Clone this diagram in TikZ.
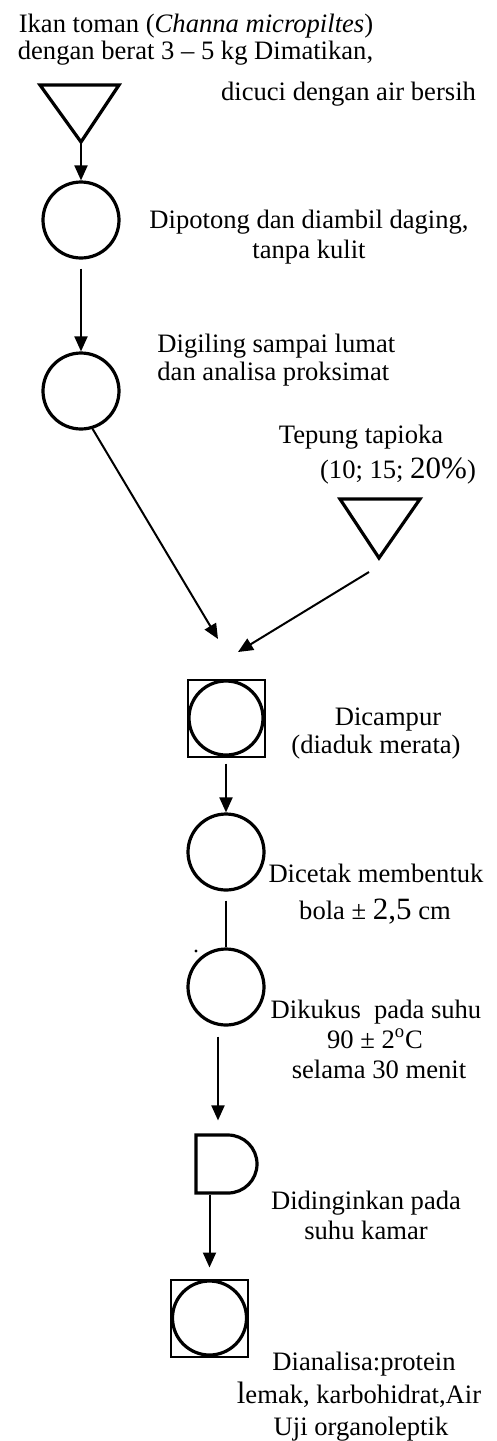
\documentclass[tikz,border=0pt]{standalone}
\usepackage{fontspec}
\setmainfont{Liberation Serif}
\usetikzlibrary{arrows.meta,shapes.misc}
\newcommand{\bigpart}[1]{{\fontsize{15.5}{17}\selectfont #1}}
\begin{document}
\begin{tikzpicture}[x=0.5pt,y=-0.5pt,
  every node/.style={font=\fontsize{13.3}{15}\selectfont},
  proc/.style={circle, draw, line width=1.6pt, minimum size=38pt, inner sep=0pt},
  inproc/.style={circle, draw, line width=1.6pt, minimum size=37pt, inner sep=0pt},
  boxsq/.style={rectangle, draw, line width=1pt, minimum size=38.5pt, inner sep=0pt},
  delay/.style={rounded rectangle, rounded rectangle left arc=none, draw, line width=1.6pt,
    minimum width=30.5pt, minimum height=29pt, inner sep=0pt},
  tri/.style={line width=1.6pt, line join=miter},
  lbl/.style={inner sep=0pt, anchor=base},
  lblw/.style={inner sep=0pt, anchor=base west},
  arr/.style={line width=1pt, -{Triangle[length=7.5pt,width=6.5pt]}},
  plain/.style={line width=1pt}]
\useasboundingbox (0,0) rectangle (497,1441);

% storage triangles
\draw[tri] (40,85) -- (119,85) -- (81,142) -- cycle;
\coordinate (t1) at (81,142);
\draw[tri] (340,499) -- (420,499) -- (379,558) -- cycle;

% process symbols
\node[proc] (c1) at (81,220) {};
\node[proc] (c2) at (81,391) {};
\node[boxsq] (mix) at (226,718) {};
\node[inproc] (mixc) at (226,718) {};
\node[proc] (c4) at (226,852) {};
\node[proc] (c5) at (226,987) {};
\node[delay] (cool) at (226.5,1164) {};
\node[boxsq] (an) at (209.5,1318) {};
\node[inproc] (anc) at (209.5,1318) {};
\fill (196,951) circle[radius=0.8pt];

% connectors
\coordinate (e1) at (218,639);
\coordinate (s2) at (369,572);
\coordinate (e2) at (238,652);
\draw[arr] (t1) -- (c1);
\draw[arr, shorten <=4.5pt] (c1) -- (c2);
\draw[arr] (c2.-73) -- (e1);
\draw[arr] (s2) -- (e2);
\draw[arr, shorten <=3pt] (mix) -- (c4);
\draw[plain, shorten <=4.5pt] (c4) -- (c5);
\draw[arr] ([xshift=-4pt,yshift=-5pt]c5.south) -- ([xshift=-4.25pt,yshift=6.5pt]cool.north);
\draw[arr] (cool.south -| an.north) -- ([yshift=5.5pt]an.north);

% labels
\node[lbl] (ti1) at (196,32) {Ikan toman (\textit{Channa micropiltes})};
\node[lbl] (ti2) at (195.5,59) {dengan berat 3 – 5 kg Dimatikan,};
\node[lbl] (ti3) at (348.5,100) {dicuci dengan air bersih};
\node[lbl] (p1) at (309,228) {Dipotong dan diambil daging,};
\node[lbl] (p2) at (309,258) {tanpa kulit};
\node[lblw] (g1) at (157,352) {Digiling sampai lumat};
\node[lblw] (g2) at (157,380) {dan analisa proksimat};
\node[lbl] (tp1) at (361,443) {Tepung tapioka};
\node[lbl] (tp2) at (398,478) {(10; 15; \bigpart{20\%})};
\node[lbl] (m1) at (388,725) {Dicampur};
\node[lbl] (m2) at (376,753) {(diaduk merata)};
\node[lbl] (d1) at (376,882) {Dicetak membentuk};
\node[lbl] (d2) at (375,919) {bola ± \bigpart{2,5} cm};
\node[lbl] (k1) at (376,1018) {Dikukus\ \ pada suhu};
\node[lbl] (k2) at (375,1048) {90 ± 2\textsuperscript{o}C};
\node[lbl] (k3) at (379,1078) {selama 30 menit};
\node[lbl] (n1) at (366,1209) {Didinginkan pada};
\node[lbl] (n2) at (366,1239) {suhu kamar};
\node[lbl] (a1) at (364,1370) {Dianalisa:protein};
\node[lbl] (a2) at (359,1403) {\bigpart{l}emak, karbohidrat,Air};
\node[lbl] (a3) at (361,1435) {Uji organoleptik};
\end{tikzpicture}
\end{document}
